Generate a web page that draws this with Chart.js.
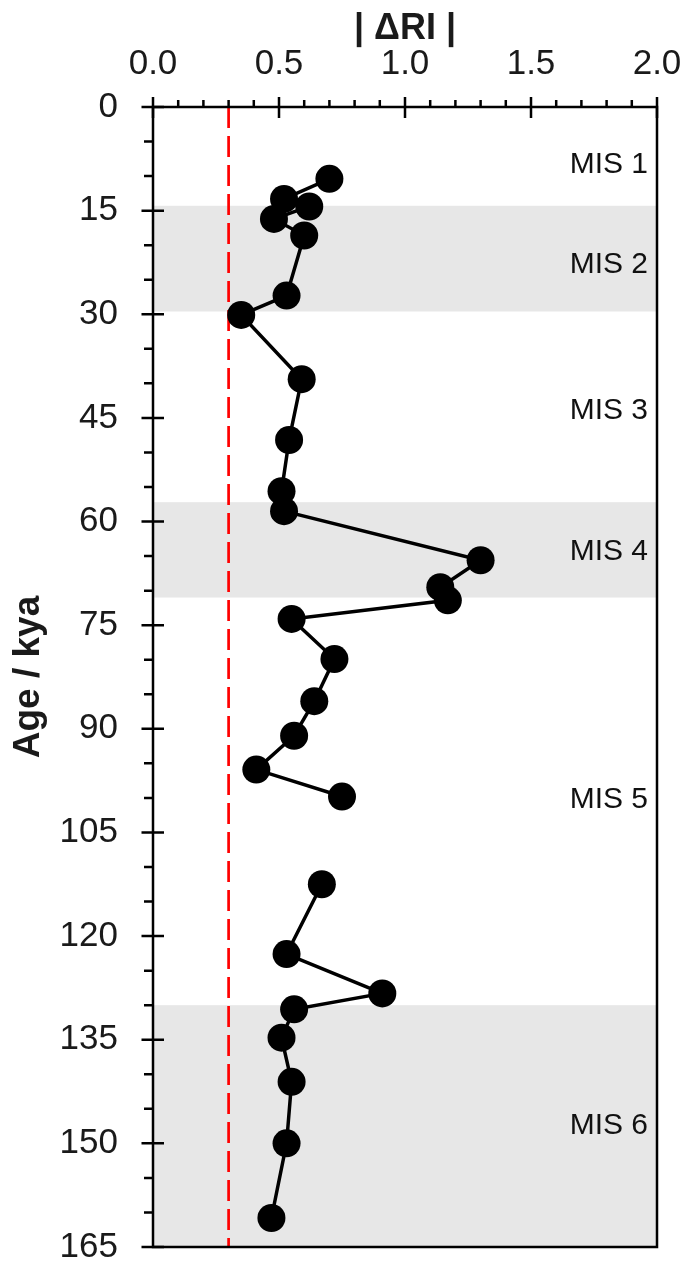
<!DOCTYPE html>
<html>
<head>
<meta charset="utf-8">
<script src="https://cdn.jsdelivr.net/npm/chart.js@4/dist/chart.umd.min.js"></script>
<style>
  body { margin: 0; background: #fff; }
  canvas { display: block; }
</style>
</head>
<body>
<canvas id="chart" width="689" height="1263"></canvas>
<script>
// Samples younger than the gap (ka) and their |ΔRI|
const ageA = [10.4, 13.3, 14.4, 16.2, 18.6, 27.3, 30.1, 39.4, 48.2, 55.6, 58.5, 65.6, 69.5, 71.4, 74.1, 79.9, 86.0, 91.0, 95.9, 99.8];
const driA = [0.70, 0.52, 0.62, 0.48, 0.60, 0.53, 0.35, 0.59, 0.54, 0.51, 0.52, 1.30, 1.14, 1.17, 0.55, 0.72, 0.64, 0.56, 0.41, 0.75];
// Older samples
const ageB = [112.5, 122.6, 128.3, 130.6, 134.7, 141.1, 150.0, 160.8];
const driB = [0.67, 0.53, 0.91, 0.56, 0.51, 0.55, 0.53, 0.47];

// Threshold
const thresholdX = 0.3;

// Glacial stages (shaded), ka
const bandStart = [14.3, 57.2, 130];
const bandEnd = [29.6, 71.0, 165];

// MIS labels and the age they sit at
const misLabels = ['MIS 1', 'MIS 2', 'MIS 3', 'MIS 4', 'MIS 5', 'MIS 6'];
const misAge = [8.4, 22.8, 43.9, 64.4, 100.3, 147.5];

const xTicks = [0, 0.5, 1.0, 1.5, 2.0];
const yTicks = [0, 15, 30, 45, 60, 75, 90, 105, 120, 135, 150, 165];

const FONT = '"Liberation Sans", Arial, sans-serif';

const toPoints = (xs, ys) => xs.map((v, i) => ({ x: v, y: ys[i] }));

// shaded bands behind the data
const bandsPlugin = {
    id: 'bands',
    beforeDatasetsDraw(chart) {
        const { ctx, chartArea, scales } = chart;
        ctx.save();
        ctx.fillStyle = '#e7e7e7';
        bandStart.forEach((s, i) => {
            const y1 = scales.y.getPixelForValue(s);
            const y2 = scales.y.getPixelForValue(bandEnd[i]);
            ctx.fillRect(chartArea.left, y1, chartArea.right - chartArea.left, y2 - y1);
        });
        ctx.restore();
    }
};

// frame, tick marks and MIS labels
const framePlugin = {
    id: 'frame',
    afterDraw(chart) {
        const { ctx, chartArea: a, scales } = chart;
        ctx.save();
        ctx.strokeStyle = '#000';
        ctx.lineWidth = 2.5;
        ctx.beginPath();
        ctx.rect(a.left, a.top, a.right - a.left, a.bottom - a.top);
        ctx.stroke();

        ctx.beginPath();
        // x ticks along the top
        for (let v = 0; v <= 20; v++) {
            const px = scales.x.getPixelForValue(v / 10);
            if (v % 5 === 0) {
                ctx.moveTo(px, a.top - 10);
                ctx.lineTo(px, a.top + 11);
            } else {
                ctx.moveTo(px, a.top - 7);
                ctx.lineTo(px, a.top);
            }
        }
        // y ticks along the left
        for (let v = 0; v <= 165; v += 5) {
            const py = scales.y.getPixelForValue(v);
            if (v % 15 === 0) {
                ctx.moveTo(a.left - 11.5, py);
                ctx.lineTo(a.left + 11, py);
            } else {
                ctx.moveTo(a.left - 9, py);
                ctx.lineTo(a.left, py);
            }
        }
        ctx.stroke();

        ctx.fillStyle = '#111';
        ctx.font = '30px ' + FONT;
        ctx.textAlign = 'right';
        ctx.textBaseline = 'middle';
        misLabels.forEach((t, i) => {
            ctx.fillText(t, a.right - 9, scales.y.getPixelForValue(misAge[i]));
        });
        ctx.restore();
    }
};

const seriesStyle = {
    showLine: true,
    borderColor: '#000',
    borderWidth: 3.5,
    pointRadius: 14,
    pointBackgroundColor: '#000',
    pointBorderWidth: 0
};

new Chart(document.getElementById('chart'), {
    type: 'scatter',
    data: {
        datasets: [
            Object.assign({ data: toPoints(driA, ageA) }, seriesStyle),
            Object.assign({ data: toPoints(driB, ageB) }, seriesStyle),
            {
                data: [{ x: thresholdX, y: 0 }, { x: thresholdX, y: 165 }],
                showLine: true,
                borderColor: '#ff0000',
                borderWidth: 2.7,
                borderDash: [21, 8],
                pointRadius: 0
            }
        ]
    },
    options: {
        responsive: false,
        animation: false,
        layout: { padding: { top: 0, left: 0, right: 32, bottom: 16 } },
        plugins: {
            legend: { display: false },
            tooltip: { enabled: false }
        },
        scales: {
            x: {
                type: 'linear',
                position: 'top',
                min: 0,
                max: 2,
                afterBuildTicks: (scale) => { scale.ticks = xTicks.map(v => ({ value: v })); },
                afterFit: (scale) => {
                    scale.height = 107;
                    scale.paddingLeft = 0;
                    scale.paddingRight = 0;
                },
                grid: { display: false, drawTicks: false },
                border: { display: false },
                ticks: {
                    padding: 22,
                    color: '#1a1a1a',
                    font: { family: FONT, size: 35 },
                    callback: (v) => Number(v).toFixed(1)
                },
                title: {
                    display: true,
                    text: '| ΔRI |',
                    color: '#1a1a1a',
                    font: { family: FONT, size: 36, weight: 'bold' },
                    padding: { top: 7, bottom: 0 }
                }
            },
            y: {
                type: 'linear',
                reverse: true,
                min: 0,
                max: 165,
                afterBuildTicks: (scale) => { scale.ticks = yTicks.map(v => ({ value: v })); },
                afterFit: (scale) => {
                    scale.width = 153;
                    scale.paddingTop = 0;
                    scale.paddingBottom = 0;
                },
                grid: { display: false, drawTicks: false },
                border: { display: false },
                ticks: {
                    padding: 35,
                    color: '#1a1a1a',
                    font: { family: FONT, size: 35 }
                },
                title: {
                    display: true,
                    text: 'Age / kya',
                    color: '#1a1a1a',
                    font: { family: FONT, size: 37, weight: 'bold' },
                    padding: { top: 7, bottom: 0 }
                }
            }
        }
    },
    plugins: [bandsPlugin, framePlugin]
});
</script>
</body>
</html>
